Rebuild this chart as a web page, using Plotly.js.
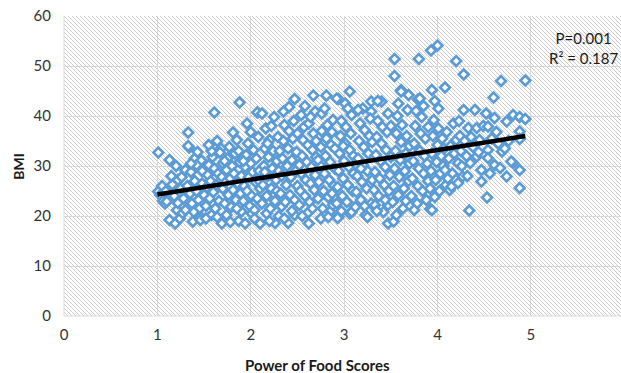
<!DOCTYPE html>
<html>
<head>
<meta charset="utf-8">
<script src="https://cdn.plot.ly/plotly-3.0.1.min.js"></script>
<style>
html,body{margin:0;padding:0;background:#fff;}
#wrap{position:relative;width:621px;height:373px;}
#hatch{position:absolute;left:64px;top:16px;width:557px;height:300px;
background-color:#fff;
background-image:url("data:image/svg+xml,%3Csvg xmlns='http://www.w3.org/2000/svg' width='4' height='4' shape-rendering='crispEdges'%3E%3Cpath d='M0 0h1v1H0zM1 1h1v1H1zM2 2h1v1H2zM3 3h1v1H3z' fill='%23cccccc'/%3E%3C/svg%3E");}
#chart{position:absolute;left:0;top:0;width:621px;height:373px;}
</style>
</head>
<body>
<div id="wrap"><div id="hatch"></div><div id="chart"></div></div>
<script>
// Power of Food Scores vs BMI
const observations = [
[1.01,32.7],[1.01,24.9],[1.03,24.2],[1.06,23.0],[1.08,22.5],[1.10,22.9],[1.05,26.0],[1.09,25.0],
[1.13,31.2],[1.13,19.2],[1.19,18.5],[1.21,21.2],[1.24,19.5],[1.22,22.6],[1.22,27.2],[1.16,26.3],[1.18,24.0],[1.27,20.6],[1.25,25.5],[1.28,23.5],[1.30,29.2],[1.30,21.2],[1.15,28.0],[1.20,30.0],[1.26,27.8],
[1.33,36.7],[1.34,33.7],[1.33,34.0],[1.40,31.5],[1.47,31.1],[1.38,18.9],[1.46,19.9],[1.46,19.2],[1.32,26.0],[1.35,24.5],[1.36,28.8],[1.37,22.5],[1.40,27.0],[1.42,25.0],[1.42,30.2],[1.44,23.2],[1.45,21.5],[1.48,29.0],[1.48,26.5],[1.39,20.8],[1.50,24.2],[1.43,32.8],[1.36,30.5],
[1.61,40.7],[1.68,33.5],[1.67,32.7],[1.58,20.2],[1.69,18.5],[1.52,22.0],[1.53,25.8],[1.54,28.2],[1.55,30.2],[1.56,23.5],[1.57,27.0],[1.59,31.8],[1.60,24.8],[1.61,29.5],[1.62,21.5],[1.63,26.2],[1.64,35.0],[1.65,28.5],[1.66,23.0],[1.58,33.0],[1.52,19.5],[1.70,30.5],[1.70,25.5],[1.69,27.8],[1.55,34.2],[1.64,19.8],
[1.88,42.7],[1.81,36.7],[1.74,20.2],[1.90,20.9],[1.72,22.5],[1.73,26.8],[1.74,29.2],[1.75,31.5],[1.76,24.2],[1.77,33.8],[1.78,27.5],[1.79,21.8],[1.80,30.0],[1.81,25.2],[1.82,28.5],[1.83,32.5],[1.84,23.2],[1.85,35.2],[1.86,26.5],[1.87,19.0],[1.88,30.8],[1.89,24.5],[1.90,28.0],[1.78,18.8],[1.85,21.5],[1.72,31.0],[1.87,33.0],
[2.07,40.7],[2.00,36.8],[2.01,20.5],[1.94,18.5],[2.10,18.5],[1.92,23.0],[1.93,26.0],[1.94,29.8],[1.95,32.2],[1.96,25.0],[1.97,34.5],[1.98,27.8],[1.99,22.0],[2.00,30.5],[2.01,24.0],[2.02,28.8],[2.03,33.2],[2.04,21.2],[2.05,26.8],[2.06,31.5],[2.07,23.5],[2.08,35.8],[2.09,29.0],[2.10,25.5],[1.96,38.5],[2.04,19.5],[1.92,31.0],[2.08,27.2],
[2.17,20.5],[2.26,18.6],[2.12,22.5],[2.13,26.2],[2.14,30.0],[2.15,33.5],[2.16,37.5],[2.17,24.0],[2.18,28.0],[2.19,31.8],[2.20,35.2],[2.21,21.5],[2.22,25.5],[2.23,29.5],[2.24,33.0],[2.25,39.8],[2.26,23.0],[2.27,27.2],[2.28,31.0],[2.29,35.8],[2.30,20.0],[2.12,40.5],[2.20,19.0],[2.22,38.0],[2.28,25.0],[2.15,28.8],[2.30,29.0],[2.18,34.5],
[2.47,43.4],[2.35,40.9],[2.33,21.9],[2.47,20.2],[2.40,18.6],[2.32,24.5],[2.33,28.0],[2.34,31.5],[2.35,35.0],[2.36,38.2],[2.37,22.8],[2.38,26.2],[2.39,30.0],[2.40,33.5],[2.41,37.0],[2.42,24.2],[2.43,27.8],[2.44,31.2],[2.45,35.5],[2.46,39.0],[2.47,23.2],[2.48,29.0],[2.49,32.8],[2.50,26.0],[2.36,19.5],[2.44,21.0],[2.41,41.8],[2.50,36.5],[2.31,33.0],
[2.54,40.2],[2.67,44.1],[2.69,40.9],[2.62,18.5],[2.61,20.6],[2.52,22.2],[2.53,25.0],[2.54,28.5],[2.55,32.0],[2.56,35.2],[2.57,37.8],[2.58,24.0],[2.59,27.2],[2.60,30.8],[2.61,34.2],[2.62,38.5],[2.63,22.8],[2.64,26.5],[2.65,29.8],[2.66,33.2],[2.67,36.5],[2.68,25.2],[2.69,28.2],[2.70,31.8],[2.55,20.0],[2.66,21.5],[2.58,42.0],[2.70,35.0],[2.52,30.2],[2.64,39.8],
[2.81,44.1],[2.76,40.5],[2.88,39.2],[2.85,20.9],[2.72,23.5],[2.73,26.8],[2.74,30.2],[2.75,33.8],[2.76,37.0],[2.77,21.5],[2.78,25.0],[2.79,28.5],[2.80,32.0],[2.81,35.5],[2.82,38.2],[2.83,23.8],[2.84,27.2],[2.85,30.8],[2.86,34.2],[2.87,36.8],[2.88,22.2],[2.89,26.0],[2.90,29.5],[2.75,19.5],[2.90,33.5],[2.79,41.5],[2.83,19.8],[2.72,31.2],[2.87,24.5],
[2.94,43.4],[3.06,44.9],[3.01,42.5],[2.92,43.5],[2.94,19.9],[3.06,20.5],[3.08,20.8],[2.93,19.6],[2.92,22.5],[2.93,25.8],[2.94,29.0],[2.95,32.5],[2.96,36.0],[2.97,39.0],[2.98,24.0],[2.99,27.5],[3.00,31.0],[3.01,34.5],[3.02,37.8],[3.03,22.8],[3.04,26.2],[3.05,29.8],[3.06,33.2],[3.07,36.5],[3.08,40.2],[3.09,25.0],[3.10,28.5],[3.10,32.0],[2.97,21.0],[3.04,41.5],[2.99,34.0],
[3.20,41.5],[3.29,40.9],[3.29,42.9],[3.12,21.8],[3.13,24.8],[3.14,28.0],[3.15,31.5],[3.16,35.0],[3.17,38.5],[3.18,23.2],[3.19,26.8],[3.20,30.2],[3.21,33.8],[3.22,37.2],[3.23,20.2],[3.24,25.5],[3.25,29.0],[3.26,32.5],[3.27,36.0],[3.28,39.5],[3.29,22.5],[3.30,27.2],[3.30,34.8],[3.15,41.2],[3.25,19.8],[3.18,29.5],[3.22,22.0],
[3.40,42.9],[3.33,22.2],[3.47,22.2],[3.47,18.5],[3.32,25.2],[3.33,28.8],[3.34,32.2],[3.35,35.8],[3.36,39.0],[3.37,24.0],[3.38,27.5],[3.39,31.0],[3.40,34.5],[3.41,37.8],[3.42,20.8],[3.43,26.2],[3.44,29.8],[3.45,33.2],[3.46,36.8],[3.47,40.5],[3.48,25.0],[3.49,28.2],[3.50,31.8],[3.50,38.0],[3.36,43.0],[3.44,23.2],[3.35,21.0],
[3.54,51.4],[3.54,48.0],[3.61,45.2],[3.69,44.2],[3.61,44.9],[3.53,18.9],[3.52,22.8],[3.53,26.0],[3.54,29.5],[3.55,33.0],[3.56,36.5],[3.57,40.0],[3.58,24.2],[3.59,27.8],[3.60,31.2],[3.61,34.8],[3.62,38.2],[3.63,21.5],[3.64,25.5],[3.65,29.0],[3.66,32.5],[3.67,36.0],[3.68,41.2],[3.69,27.0],[3.70,30.5],[3.70,34.0],[3.58,42.5],[3.66,23.0],[3.56,20.2],
[3.80,51.4],[3.79,43.3],[3.81,43.5],[3.72,24.0],[3.73,27.5],[3.74,31.0],[3.75,34.5],[3.76,38.0],[3.77,41.0],[3.78,22.5],[3.79,26.0],[3.80,29.5],[3.81,33.0],[3.82,36.5],[3.83,39.8],[3.84,25.0],[3.85,28.5],[3.86,32.0],[3.87,35.5],[3.88,23.2],[3.89,30.5],[3.90,37.8],[3.75,21.2],[3.85,42.0],[3.90,27.0],
[3.93,53.1],[4.00,54.1],[3.94,45.2],[4.08,45.7],[4.01,41.5],[3.92,21.4],[3.94,21.2],[3.92,25.5],[3.93,29.0],[3.94,32.5],[3.95,36.0],[3.96,39.2],[3.97,23.8],[3.98,27.2],[3.99,30.8],[4.00,34.2],[4.01,37.5],[4.02,25.0],[4.03,28.5],[4.04,32.0],[4.05,35.5],[4.06,30.0],[4.07,33.5],[4.08,29.2],[4.10,36.8],[4.09,26.2],[3.97,43.0],
[4.20,51.0],[4.28,48.3],[4.28,41.2],[4.13,25.2],[4.15,25.9],[4.22,26.6],[4.27,27.9],[4.22,30.6],[4.20,35.2],[4.12,31.5],[4.14,34.0],[4.16,28.5],[4.18,32.5],[4.24,36.0],[4.25,33.0],[4.26,30.0],[4.17,38.5],[4.29,35.0],[4.11,27.5],[4.23,39.0],
[4.34,21.1],[4.33,37.6],[4.35,30.6],[4.42,37.6],[4.42,31.9],[4.40,41.2],[4.47,26.9],[4.47,29.2],[4.38,33.8],[4.32,28.0],[4.45,35.2],[4.36,35.8],[4.44,32.8],[4.31,32.0],[4.49,38.0],
[4.53,23.7],[4.54,37.9],[4.54,33.2],[4.54,31.6],[4.60,43.7],[4.61,39.6],[4.61,30.2],[4.67,29.6],[4.69,32.9],[4.68,47.0],[4.58,35.5],[4.63,36.8],[4.56,28.5],[4.65,34.5],[4.52,40.5],
[4.74,38.9],[4.81,40.2],[4.88,39.8],[4.94,39.4],[4.88,36.9],[4.88,35.4],[4.88,29.2],[4.81,30.6],[4.88,25.6],[4.74,27.9],[4.79,30.9],[4.94,47.1],[4.76,35.0],[4.72,33.5]
];
const pfsScores = observations.map(p => p[0]);
const bmiValues = observations.map(p => p[1]);

// Linear trend line end points
const trendX = [1.0, 4.94];
const trendY = [24.3, 36.0];

const xTicks = [0, 1, 2, 3, 4, 5];
const yTicks = [0, 10, 20, 30, 40, 50, 60];
const statsLabel = 'P=0.001<br>R² = 0.187';
const xTitle = 'Power of Food Scores';
const yTitle = 'BMI';

const font = 'Lato, "Open Sans", sans-serif';

const traces = [
  {
    x: pfsScores, y: bmiValues, type: 'scatter', mode: 'markers',
    marker: {symbol: 'diamond', size: 7.5, color: '#ffffff',
             line: {color: '#5B9BD5', width: 2.6}},
    hoverinfo: 'skip', cliponaxis: false
  },
  {
    x: trendX, y: trendY, type: 'scatter', mode: 'lines',
    line: {color: '#000000', width: 4.5}, hoverinfo: 'skip'
  }
];

const layout = {
  width: 621, height: 373,
  margin: {l: 64, r: 0, t: 16, b: 57},
  paper_bgcolor: 'rgba(0,0,0,0)',
  plot_bgcolor: 'rgba(0,0,0,0)',
  showlegend: false,
  font: {family: font, color: '#333333', size: 14},
  xaxis: {
    range: [0, 5.965], tickvals: xTicks, ticktext: xTicks.map(String),
    showgrid: true, gridcolor: '#d9d9d9', gridwidth: 1,
    zeroline: false, showline: false, ticks: '',
    ticklabelstandoff: 8,
    tickfont: {family: font, size: 15, color: '#333333'}
  },
  yaxis: {
    range: [0, 60], tickvals: yTicks, ticktext: yTicks.map(String),
    showgrid: true, gridcolor: '#d9d9d9', gridwidth: 1,
    zeroline: false, showline: false, ticks: '',
    ticklabelstandoff: 12,
    tickfont: {family: font, size: 15, color: '#333333'}
  },
  shapes: [
    {type: 'line', xref: 'paper', yref: 'paper', x0: 0, x1: 0, y0: 0, y1: 1,
     line: {color: '#d9d9d9', width: 1}},
    {type: 'line', xref: 'paper', yref: 'paper', x0: 0, x1: 1, y0: 0, y1: 0,
     line: {color: '#d9d9d9', width: 1}}
  ],
  annotations: [
    {xref: 'paper', yref: 'paper', x: 0.932, y: 0.893, text: statsLabel,
     showarrow: false, xanchor: 'center', yanchor: 'middle', align: 'center',
     font: {family: font, size: 15, color: '#1a1a1a'}},
    {xref: 'paper', yref: 'paper', x: 0.456, y: -0.163, text: '<b>' + xTitle + '</b>',
     showarrow: false, xanchor: 'center', yanchor: 'middle',
     font: {family: font, size: 15, color: '#1a1a1a'}},
    {xref: 'paper', yref: 'paper', x: -0.083, y: 0.5, text: '<b>' + yTitle + '</b>',
     showarrow: false, xanchor: 'center', yanchor: 'middle', textangle: -90,
     font: {family: font, size: 14, color: '#1a1a1a'}}
  ]
};

Plotly.newPlot('chart', traces, layout, {staticPlot: true, displayModeBar: false});
</script>
</body>
</html>
